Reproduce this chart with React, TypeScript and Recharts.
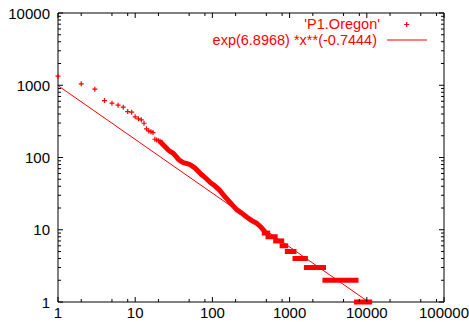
import React from 'react';
import { ComposedChart, Line, Scatter, XAxis, YAxis, ReferenceArea, Legend } from 'recharts';

const RED = '#ff0000';
const FONT = '"Liberation Sans", Arial, Helvetica, sans-serif';

// individually visible markers (rank, degree)
const sparseRanks = [1, 2, 3, 4, 5, 6, 7, 8, 9, 10, 11, 12, 13, 14, 15, 16, 17, 18, 19, 20, 21, 22];
const sparseDegrees = [1336, 1046, 883, 614, 565, 530, 497, 432, 424, 365, 343, 332, 298, 249, 233, 228, 221, 179, 175, 171, 168, 158];

// dense band of overlapping markers (rank, degree)
const bandRanks = [22, 23, 25, 27, 29, 31, 34, 36, 39, 42, 46, 51, 55, 60, 65, 70, 77, 85, 94, 103, 115, 125, 140, 153, 175, 206, 240, 278, 320, 375, 420, 456];
const bandDegrees = [158, 150, 137, 126, 120, 115, 103, 95, 89, 85, 83, 80, 76, 71, 65, 60, 55, 50, 45, 42, 38, 35, 30, 27, 23, 19, 17, 15, 13.5, 12.3, 11, 10];

// flat runs of equal degree in the tail
const plateauDegrees = [9, 8, 7, 6, 5, 4, 3, 2, 1];
const plateauStartRanks = [470, 525, 660, 800, 935, 1175, 1650, 2870, 7360];
const plateauEndRanks = [520, 650, 790, 890, 1140, 1600, 2750, 7250, 10900];

// fit exp(6.8968)*x**(-0.7444)
const fitRanks = [1, 10560];
const fitDegrees = [989, 1];

const xMajorTicks = [1, 10, 100, 1000, 10000, 100000];
const xMinorMultipliers = [2, 5, 8];
const yMajorTicks = [1, 10, 100, 1000, 10000];
const yMinorMultipliers = [2, 3, 4, 5, 6, 7, 8, 9];

const legendLabels = ["'P1.Oregon'", 'exp(6.8968) *x**(-0.7444)'];

const xTicks: number[] = [];
xMajorTicks.forEach((t, i) => {
  xTicks.push(t);
  if (i < xMajorTicks.length - 1) xMinorMultipliers.forEach((m) => xTicks.push(t * m));
});
const yTicks: number[] = [];
yMajorTicks.forEach((t, i) => {
  yTicks.push(t);
  if (i < yMajorTicks.length - 1) yMinorMultipliers.forEach((m) => yTicks.push(t * m));
});

const sparseData = sparseRanks.map((x, i) => ({ x, y: sparseDegrees[i] }));
const bandData = bandRanks.map((x, i) => ({ x, y: bandDegrees[i] }));
const plateauData = plateauDegrees.map((d, i) => [
  { x: plateauStartRanks[i], y: d },
  { x: plateauEndRanks[i], y: d },
]);
const fitData = fitRanks.map((x, i) => ({ x, y: fitDegrees[i] }));

const W = 469;
const H = 322;
const PLOT = { left: 58, right: 444, top: 13, bottom: 302 };

const XTick = (props: any) => {
  const { x, payload } = props;
  const v = payload.value;
  const major = xMajorTicks.includes(v);
  const len = major ? 5 : 3;
  return (
    <g>
      <line x1={x} x2={x} y1={PLOT.bottom} y2={PLOT.bottom - len} stroke="#000" strokeWidth={1} />
      <line x1={x} x2={x} y1={PLOT.top} y2={PLOT.top + len} stroke="#000" strokeWidth={1} />
      {major && (
        <text x={x} y={318} textAnchor="middle" fontSize={15} fontFamily={FONT} fill="#000">
          {String(v)}
        </text>
      )}
    </g>
  );
};

const YTick = (props: any) => {
  const { y, payload } = props;
  const v = payload.value;
  const major = yMajorTicks.includes(v);
  const len = major ? 5 : 3;
  return (
    <g>
      <line x1={PLOT.left} x2={PLOT.left + len} y1={y} y2={y} stroke="#000" strokeWidth={1} />
      <line x1={PLOT.right} x2={PLOT.right - len} y1={y} y2={y} stroke="#000" strokeWidth={1} />
      {major && (
        <text x={50} y={y} dy={5.5} textAnchor="end" fontSize={15} fontFamily={FONT} fill="#000">
          {String(v)}
        </text>
      )}
    </g>
  );
};

const Plus = (props: any) => {
  const { cx, cy } = props;
  if (cx == null || cy == null) return <g />;
  return (
    <path
      d={`M${cx - 2.5},${cy}H${cx + 2.5}M${cx},${cy - 2.5}V${cy + 2.5}`}
      stroke={RED}
      strokeWidth={1.2}
      fill="none"
    />
  );
};

const LegendContent = () => (
  <svg width={W} height={50} style={{ display: 'block', overflow: 'visible' }}>
    <text x={380} y={29} textAnchor="end" fontSize={14.5} fontFamily={FONT} fill={RED}>
      {legendLabels[0]}
    </text>
    <path d="M404.2,24.5H409.2M406.7,22V27" stroke={RED} strokeWidth={1.2} fill="none" />
    <text x={377} y={45} textAnchor="end" fontSize={14.5} fontFamily={FONT} fill={RED}>
      {legendLabels[1]}
    </text>
    <line x1={387} x2={427} y1={40} y2={40} stroke={RED} strokeWidth={1} />
  </svg>
);

export default function App() {
  return (
    <div style={{ position: 'absolute', left: 0, top: 0, width: W, height: H }}>
      <ComposedChart width={W} height={H} margin={{ top: 13, right: 25, bottom: 0, left: 0 }}>
        <XAxis
          type="number"
          dataKey="x"
          scale="log"
          domain={[1, 100000]}
          ticks={xTicks}
          interval={0}
          tick={<XTick />}
          tickLine={false}
          axisLine={false}
          height={20}
        />
        <YAxis
          type="number"
          dataKey="y"
          scale="log"
          domain={[1, 10000]}
          ticks={yTicks}
          interval={0}
          tick={<YTick />}
          tickLine={false}
          axisLine={false}
          width={58}
        />
        <ReferenceArea
          x1={1}
          x2={100000}
          y1={1}
          y2={10000}
          fill="none"
          fillOpacity={0}
          stroke="#000"
          strokeWidth={1}
          ifOverflow="visible"
        />
        <Legend
          content={<LegendContent />}
          layout="vertical"
          align="center"
          verticalAlign="middle"
          wrapperStyle={{ top: 0, left: 0, width: W, height: 50 }}
        />
        <Line
          data={fitData}
          dataKey="y"
          stroke={RED}
          strokeWidth={1}
          dot={false}
          activeDot={false}
          isAnimationActive={false}
          legendType="none"
        />
        <Line
          data={bandData}
          dataKey="y"
          stroke={RED}
          strokeWidth={5}
          strokeLinecap="square"
          strokeLinejoin="round"
          dot={false}
          activeDot={false}
          isAnimationActive={false}
          legendType="none"
        />
        {plateauData.map((seg, i) => (
          <Line
            key={`p${i}`}
            data={seg}
            dataKey="y"
            stroke={RED}
            strokeWidth={5}
            strokeLinecap="square"
            dot={false}
            activeDot={false}
            isAnimationActive={false}
            legendType="none"
          />
        ))}
        <Scatter data={sparseData} dataKey="y" shape={<Plus />} isAnimationActive={false} legendType="none" />
      </ComposedChart>
    </div>
  );
}
